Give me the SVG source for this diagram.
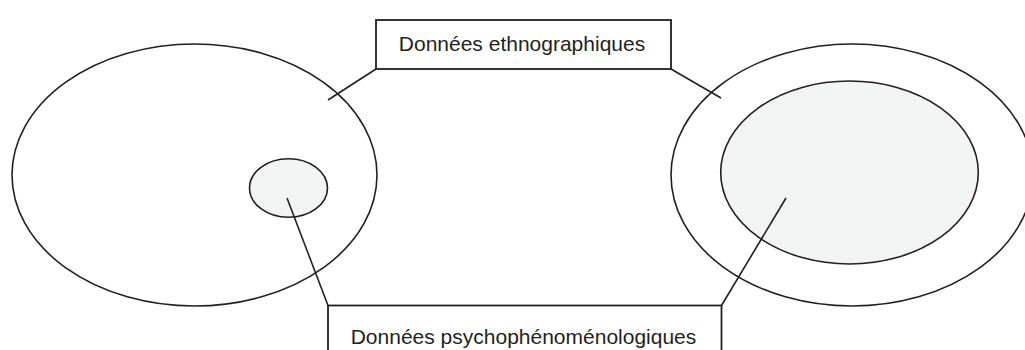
<svg xmlns="http://www.w3.org/2000/svg" width="1025" height="350" viewBox="0 0 1025 350">
  <style>
    .shape { stroke: #231f20; stroke-width: 1.6; }
    .outer { fill: none; }
    .inner { fill: #f2f3f3; }
    .box { fill: #ffffff; stroke: #231f20; stroke-width: 1.8; }
    .label { font-family: "Liberation Sans", Arial, sans-serif; font-size: 21px; fill: #231f20; text-anchor: middle; }
    .conn line { stroke: #231f20; stroke-width: 1.6; fill: none; }
  </style>
  <rect width="1025" height="350" fill="#ffffff"/>
  <g id="left-outer">
    <ellipse class="shape outer" cx="194.5" cy="175" rx="182.5" ry="131"/>
  </g>
  <g id="left-inner">
    <ellipse class="shape inner" cx="288.5" cy="188" rx="39" ry="29.3"/>
  </g>
  <g id="right-outer">
    <ellipse class="shape outer" cx="852" cy="175" rx="181" ry="131"/>
  </g>
  <g id="right-inner">
    <ellipse class="shape inner" cx="849.5" cy="172.5" rx="128.8" ry="91.5"/>
  </g>
  <g class="conn" id="connectors">
    <line x1="376" y1="69" x2="328" y2="100"/>
    <line x1="671" y1="69" x2="721" y2="98"/>
    <line x1="287" y1="198" x2="328" y2="305.5"/>
    <line x1="786" y1="198" x2="721.5" y2="305.5"/>
  </g>
  <g id="box-ethno">
    <rect class="box" x="376" y="20" width="295" height="49"/>
    <text class="label" x="522" y="50.5">Données ethnographiques</text>
  </g>
  <g id="box-psycho">
    <rect class="box" x="328" y="305.5" width="393.5" height="60"/>
    <text class="label" x="523.5" y="343.5">Données psychophénoménologiques</text>
  </g>
</svg>
